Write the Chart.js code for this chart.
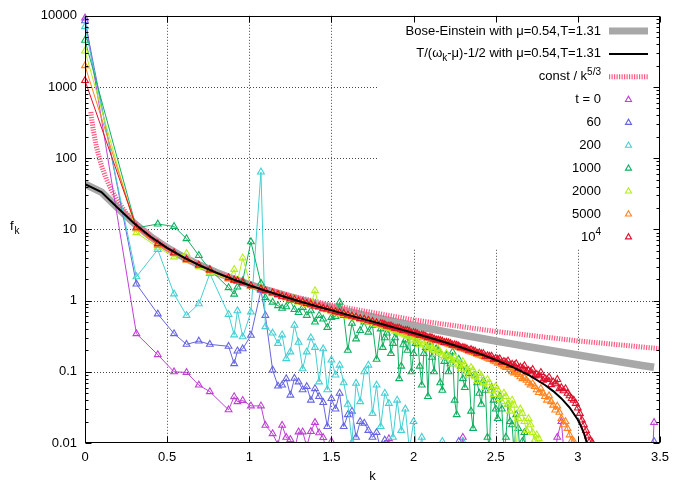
<!DOCTYPE html>
<html>
<head>
<meta charset="utf-8">
<script src="https://cdn.jsdelivr.net/npm/chart.js@4.4.0/dist/chart.umd.min.js"></script>
<style>
  html, body { margin: 0; padding: 0; background: #fff; }
  #wrap { width: 676px; height: 482px; position: relative; }
</style>
</head>
<body>
<div id="wrap"><canvas id="c"></canvas></div>
<script>
// ---- axis ticks ----
const X_TICKS = [0, 0.5, 1, 1.5, 2, 2.5, 3, 3.5];
const Y_TICKS = [0.01, 0.1, 1, 10, 100, 1000, 10000];

// ---- momenta of the occupation spectra ----
const K = [0, 0.313, 0.443, 0.542, 0.618, 0.693, 0.760, 0.874, 0.908, 0.928, 0.960, 1.010, 1.071, 1.098, 1.142,
  1.175, 1.2, 1.225, 1.25, 1.275, 1.3, 1.325, 1.35, 1.375, 1.4, 1.425, 1.45, 1.475, 1.5, 1.525, 1.55, 1.575, 1.6, 1.625, 1.65, 1.675, 1.7, 1.725, 1.75, 1.775, 1.8, 1.825, 1.85, 1.875, 1.9, 1.925, 1.95, 1.975,
  2.0, 2.025, 2.05, 2.075, 2.1, 2.125, 2.15, 2.175, 2.2, 2.225, 2.25, 2.275, 2.3, 2.325, 2.35, 2.375, 2.4, 2.425, 2.45, 2.475, 2.5, 2.525, 2.55, 2.575, 2.6, 2.625, 2.65, 2.675, 2.7, 2.725, 2.75, 2.775, 2.8, 2.825, 2.85, 2.875, 2.9, 2.925, 2.95, 2.975,
  3.0, 3.025, 3.05, 3.075, 3.1, 3.125, 3.15, 3.175, 3.2, 3.225, 3.25, 3.275, 3.3, 3.325, 3.35, 3.375, 3.4, 3.425, 3.45, 3.464];

// extra momenta in the densely populated shell (late times only)
const K_MID = [1.8125, 1.8375, 1.8625, 1.8875, 1.9125, 1.9375, 1.9625, 1.9875,
  2.0125, 2.0375, 2.0625, 2.0875, 2.1125, 2.1375, 2.1625, 2.1875, 2.2125, 2.2375, 2.2625, 2.2875, 2.3125, 2.3375, 2.3625, 2.3875, 2.4125, 2.4375, 2.4625, 2.4875,
  2.5125, 2.5375, 2.5625, 2.5875, 2.6125, 2.6375, 2.6625, 2.6875, 2.7125, 2.7375, 2.7625, 2.7875, 2.8125, 2.8375, 2.8625, 2.8875, 2.9125, 2.9375, 2.9625, 2.9875,
  3.0125, 3.0375, 3.0625, 3.0875];

// occupation below the plotted range (not visible, only the connecting lines show)
const B = 0.004;

const F_T0 = [9300, 0.343, 0.174, 0.100, 0.098, 0.065, 0.0526, 0.0292, 0.0448, 0.038, 0.0396, 0.0332, 0.0332, 0.0177, 0.0135,
  0.0095, 0.0177, 0.012, 0.0112, 0.008, 0.0143, 0.0143, 0.009, 0.0145, 0.0194, 0.0139, 0.0119, 0.007, 0.0105, B, B, B, B, B, B, B, B, B, B, B, B, B, 0.0115, B, B, B, B, B,
  B, B, B, B, B, B, B, B, B, B, B, B, 0.012, B, B, B, B, B, B, B, B, B, B, B, B, B, B, B, B, B, B, B, B, B, B, 0.012, 0.02, B, B, B,
  B, B, B, B, B, B, B, B, B, B, B, B, B, B, B, B, B, B, B, 0.0194];

const F_T60 = [8500, 1.71, 0.65, 0.343, 0.243, 0.27, 0.243, 0.228, 0.13, 0.196, 0.21, 0.325, 1.4, 0.62, 0.106,
  0.063, 0.065, 0.08, 0.047, 0.081, 0.072, 0.056, 0.062, 0.04, 0.058, 0.045, 0.037, 0.017, 0.042, 0.03, 0.05, 0.017, 0.025, 0.028, 0.012, 0.02, 0.019, 0.015, 0.012, 0.014, 0.008, 0.011, B, 0.009, B, B, B, B,
  B, B, B, B, B, B, B, B, B, B, B, 0.0105, B, B, B, B, B, B, B, B, B, B, B, B, B, B, B, B, B, B, B, B, B, B, B, B, B, B, B, B,
  B, B, B, B, B, B, B, B, B, B, B, B, B, B, B, B, B, B, B, 0.0105];

const F_T200 = [7030, 2.16, 5.2, 1.24, 0.62, 0.9, 2.4, 0.64, 0.33, 0.72, 0.31, 0.69, 64, 0.43, 0.35,
  0.25, 0.33, 0.153, 0.19, 0.45, 0.26, 0.11, 0.19, 0.3, 0.22, 0.072, 0.21, 0.056, 0.146, 0.09, 0.124, 0.07, 0.035, 0.0102, 0.069, 0.038, 0.1, 0.124, 0.026, 0.065, 0.017, 0.05, 0.036, 0.012, 0.04, 0.015, 0.03, 0.008,
  0.02, 0.006, 0.012, B, B, B, B, 0.0105, B, B, B, B, 0.0105, B, B, B, B, B, B, B, B, B, B, B, B, B, B, B, B, B, B, B, B, B, B, B, B, B, B,
  B, B, B, B, B, B, B, B, B, B, B, B, B, B, B, B, B, B, B, B];

const F_T1000 = [4530, 10.5, 11.9, 11.0, 7.4, 4.3, 2.74, 1.52, 1.23, 1.55, 1.9, 6.7, 1.75, 1.1, 0.95,
  0.85, 0.78, 0.82, 1.0, 0.75, 0.68, 0.8, 0.62, 0.72, 0.5, 0.62, 0.55, 0.42, 0.58, 0.6, 0.95, 0.62, 0.2, 0.48, 0.29, 0.38, 0.5, 0.36, 0.45, 0.15, 0.4, 0.3, 0.42, 0.25, 0.36, 0.12, 0.28, 0.33,
  0.18, 0.3, 0.065, 0.22, 0.26, 0.1, 0.2, 0.055, 0.17, 0.13, 0.04, 0.15, 0.08, 0.11, 0.028, 0.09, 0.05, 0.075, 0.012, 0.06, 0.03, 0.045, 0.008, 0.035, 0.018, 0.025, 0.006, 0.014, B, 0.009, B, B, B, B, B, B, B, B, B, B,
  B, B, B, B, B, B, B, B, B, B, B, B, B, B, B, B, B, B, B, B];
const F_T1000_MID = [0.22, 0.35, 0.18, 0.3, 0.08, 0.24, 0.2, 0.1,
  0.25, 0.12, 0.18, 0.045, 0.16, 0.21, 0.07, 0.14, 0.1, 0.19, 0.025, 0.12, 0.06, 0.095, 0.016, 0.07, 0.035, 0.055, 0.009, 0.04,
  0.022, 0.03, 0.012, 0.02, 0.007, 0.016, 0.0105, 0.006, B, B, B, B, B, B, B, B, B, B, B, B,
  B, B, B, B];

const F_T2000 = [3200, 9.0, 5.6, 4.1, 4.6, 3.0, 2.5, 2.0, 2.74, 1.85, 3.98, 1.6, 1.5, 1.35, 1.25,
  1.2, 1.12, 1.1, 1.03, 1.05, 0.95, 0.93, 0.88, 0.86, 1.38, 0.8, 0.75, 0.74, 0.7, 0.69, 0.65, 0.64, 0.6, 0.59, 0.57, 0.54, 0.53, 0.5, 0.49, 0.46, 0.45, 0.43, 0.41, 0.39, 0.38, 0.35, 0.33, 0.31,
  0.3, 0.26, 0.27, 0.23, 0.24, 0.2, 0.21, 0.17, 0.18, 0.15, 0.16, 0.125, 0.14, 0.1, 0.115, 0.085, 0.095, 0.07, 0.078, 0.055, 0.062, 0.042, 0.05, 0.035, 0.04, 0.008, 0.03, 0.02, 0.022, 0.014, 0.013, 0.009, 0.006, B, B, B, B, B, B, B,
  B, B, B, B, B, B, B, B, B, B, B, B, B, B, B, B, B, B, B, B];
const F_T2000_MID = [0.44, 0.42, 0.4, 0.37, 0.36, 0.34, 0.32, 0.28,
  0.28, 0.24, 0.25, 0.21, 0.22, 0.18, 0.19, 0.16, 0.165, 0.13, 0.145, 0.11, 0.125, 0.09, 0.105, 0.075, 0.088, 0.06, 0.07, 0.048,
  0.056, 0.038, 0.045, 0.028, 0.034, 0.022, 0.026, 0.015, 0.018, 0.011, 0.0115, 0.007, B, B, B, B, B, B, B, B,
  B, B, B, B];

const F_T5000 = [1990, 10.2, 6.0, 4.6, 3.7, 3.1, 2.65, 2.05, 1.92, 1.85, 1.75, 1.6, 1.44, 1.37, 1.27,
  1.2, 1.14, 1.1, 1.05, 1.02, 0.97, 0.94, 0.9, 0.87, 0.83, 0.81, 0.77, 0.75, 0.72, 0.69, 0.67, 0.65, 0.62, 0.6, 0.58, 0.555, 0.54, 0.52, 0.5, 0.48, 0.465, 0.45, 0.43, 0.415, 0.4, 0.385, 0.37, 0.36,
  0.345, 0.33, 0.32, 0.305, 0.295, 0.28, 0.272, 0.26, 0.25, 0.24, 0.23, 0.22, 0.21, 0.2, 0.19, 0.182, 0.172, 0.164, 0.155, 0.15, 0.138, 0.134, 0.12, 0.115, 0.1, 0.098, 0.085, 0.082, 0.07, 0.068, 0.056, 0.058, 0.045, 0.046, 0.034, 0.033, 0.022, 0.02, 0.013, 0.0105,
  0.007, 0.005, B, B, B, B, B, B, B, B, B, B, B, B, B, B, B, B, B, B];
const F_T5000_MID = [0.455, 0.44, 0.42, 0.41, 0.39, 0.38, 0.36, 0.35,
  0.335, 0.325, 0.31, 0.3, 0.285, 0.277, 0.265, 0.255, 0.244, 0.235, 0.224, 0.215, 0.205, 0.195, 0.186, 0.177, 0.168, 0.16, 0.15, 0.142,
  0.132, 0.126, 0.115, 0.108, 0.096, 0.092, 0.08, 0.076, 0.065, 0.062, 0.051, 0.05, 0.04, 0.038, 0.029, 0.027, 0.018, 0.016, 0.0108, 0.008,
  0.006, B, B, B];

const F_T10000 = [1230, 10.7, 6.3, 4.7, 3.8, 3.15, 2.7, 2.1, 1.95, 1.9, 1.78, 1.62, 1.46, 1.38, 1.29,
  1.22, 1.15, 1.12, 1.06, 1.04, 0.98, 0.96, 0.91, 0.89, 0.84, 0.82, 0.78, 0.76, 0.73, 0.7, 0.68, 0.66, 0.63, 0.61, 0.59, 0.56, 0.55, 0.53, 0.51, 0.49, 0.475, 0.46, 0.44, 0.425, 0.41, 0.395, 0.38, 0.37,
  0.355, 0.34, 0.33, 0.315, 0.305, 0.29, 0.28, 0.27, 0.26, 0.25, 0.24, 0.23, 0.22, 0.21, 0.205, 0.195, 0.185, 0.18, 0.168, 0.166, 0.154, 0.152, 0.14, 0.142, 0.128, 0.13, 0.116, 0.122, 0.104, 0.108, 0.092, 0.098, 0.08, 0.084, 0.072, 0.078, 0.06, 0.058, 0.046, 0.04,
  0.031, 0.021, 0.015, 0.0108, 0.006, B, B, B, B, B, B, B, B, B, B, B, B, B, B, B];
const F_T10000_MID = [0.47, 0.44, 0.44, 0.41, 0.41, 0.38, 0.38, 0.35,
  0.35, 0.325, 0.325, 0.3, 0.3, 0.28, 0.276, 0.258, 0.256, 0.238, 0.236, 0.218, 0.216, 0.2, 0.198, 0.182, 0.18, 0.165, 0.165, 0.15,
  0.15, 0.136, 0.136, 0.124, 0.124, 0.11, 0.112, 0.1, 0.1, 0.088, 0.088, 0.076, 0.078, 0.066, 0.068, 0.058, 0.054, 0.05, 0.042, 0.036,
  0.026, 0.018, 0.0125, 0.0102];

// ---- Bose-Einstein distribution, mu = 0.54, T = 1.31 ----
const BE_K = [0, 0.1, 0.2, 0.3, 0.4, 0.5, 0.6, 0.7, 0.8, 0.9, 1.0, 1.1, 1.2, 1.3, 1.4, 1.5, 1.6, 1.7, 1.8, 1.9,
  2.0, 2.1, 2.2, 2.3, 2.4, 2.5, 2.6, 2.7, 2.8, 2.9, 3.0, 3.1, 3.2, 3.3, 3.4, 3.464];
const BE_F = [43.2, 33.35, 19.94, 12.09, 7.886, 5.516, 4.073, 3.135, 2.490, 2.027, 1.682, 1.418, 1.211, 1.045, 0.9095, 0.7974, 0.7034, 0.6240, 0.5560, 0.4974,
  0.4466, 0.4022, 0.3632, 0.3288, 0.2982, 0.2711, 0.2468, 0.2251, 0.2055, 0.1879, 0.1720, 0.1576, 0.1446, 0.1327, 0.1219, 0.1156];

// ---- classical limit T/(omega_k - mu) - 1/2 ----
const CL_K = [0, 0.1, 0.2, 0.3, 0.4, 0.5, 0.6, 0.7, 0.8, 0.9, 1.0, 1.1, 1.2, 1.3, 1.4, 1.5, 1.6, 1.7, 1.8, 1.9,
  2.0, 2.1, 2.2, 2.3, 2.4, 2.5, 2.6, 2.7, 2.8, 2.85, 2.9, 2.95, 3.0, 3.02, 3.04, 3.06, 3.08];
const CL_F = [43.17, 33.35, 19.94, 12.08, 7.876, 5.504, 4.055, 3.112, 2.462, 1.994, 1.644, 1.374, 1.161, 0.9895, 0.8483, 0.7304, 0.6308, 0.5455, 0.4717, 0.4074,
  0.3509, 0.3007, 0.2561, 0.2160, 0.1799, 0.1472, 0.1174, 0.0902, 0.0653, 0.0536, 0.0423, 0.0315, 0.0212, 0.0171, 0.0131, 0.0092, 0.0053];

// ---- power law const / k^(5/3) ----
const PL_K = [0.0354, 0.05, 0.07, 0.1, 0.13, 0.16, 0.2, 0.25, 0.3, 0.4, 0.5, 0.6, 0.8, 1.0, 1.25, 1.5, 2.0, 2.5, 3.0, 3.5];
const PL_F = [445, 250.6, 143, 78.9, 50.9, 36.0, 24.9, 17.1, 12.65, 7.83, 5.40, 3.98, 2.466, 1.70, 1.172, 0.865, 0.5355, 0.369, 0.272, 0.211];

// ---- key entries (text pieces: n normal, sub, sup) ----
const KEY_BE = [['n', 'Bose-Einstein with μ=0.54,T=1.31']];
const KEY_CL = [['n', 'T/(ω'], ['sub', 'k'], ['n', '-μ)-1/2 with μ=0.54,T=1.31']];
const KEY_PL = [['n', 'const / k'], ['sup', '5/3']];
const TIME_LABELS = [[['n', 't = 0']], [['n', '60']], [['n', '200']], [['n', '1000']], [['n', '2000']], [['n', '5000']], [['n', '10'], ['sup', '4']]];

const FONT = "'Liberation Sans', Arial, Helvetica, sans-serif";
const SERIES = [
  { values: F_T0,     color: '#c040d4' },
  { values: F_T60,    color: '#6666e0' },
  { values: F_T200,   color: '#44d0d4' },
  { values: F_T1000,  mid: F_T1000_MID,  color: '#10b060' },
  { values: F_T2000,  mid: F_T2000_MID,  color: '#b4ee1a' },
  { values: F_T5000,  mid: F_T5000_MID,  color: '#ff8420' },
  { values: F_T10000, mid: F_T10000_MID, color: '#e0102c' }
];

const pts = (xs, ys) => xs.map((x, i) => ({ x: x, y: ys[i] }));
function spectrum(s) {
  const a = pts(K, s.values);
  if (s.mid) a.push(...pts(K_MID, s.mid));
  return a.sort((p, q) => p.x - q.x);
}

Chart.defaults.font.family = FONT;
Chart.defaults.font.size = 13;
Chart.defaults.color = '#000';

const datasets = [
  { data: pts(BE_K, BE_F), borderColor: '#a8a8a8', borderWidth: 7.5, pointRadius: 0, showLine: true,
    borderCapStyle: 'butt', order: 20, clip: 0 },
  { data: pts(PL_K, PL_F), borderColor: '#ff5a80', borderWidth: 5, borderDash: [1.2, 1.3], pointRadius: 0,
    showLine: true, borderCapStyle: 'butt', order: 19, clip: 0 }
];
SERIES.forEach((s, i) => {
  datasets.push({
    data: spectrum(s), showLine: true, borderColor: s.color, borderWidth: 1,
    pointStyle: 'triangle', pointRadius: 3.9, pointBorderWidth: 1.1, pointBorderColor: s.color,
    pointBackgroundColor: 'rgba(0,0,0,0)', order: 10 - i,
    clip: { left: 8, top: 8, right: 8, bottom: 0 }
  });
});
datasets.push({ data: pts(CL_K, CL_F), borderColor: '#000', borderWidth: 2, pointRadius: 0, showLine: true,
  order: 0, clip: 0 });

// opaque key region at the upper right of the plot
const KEY_BOX = { left: 378, bottom: 248 };
const KEY_TEXT_RIGHT = 601, KEY_SAMPLE = [609, 648], KEY_Y0 = 31, KEY_DY = 22.9;

function pieceFont(kind) { return (kind === 'n' ? 13 : 10) + 'px ' + FONT; }
function drawPieces(ctx, pieces, xRight, yMid) {
  let w = 0;
  pieces.forEach(p => { ctx.font = pieceFont(p[0]); w += ctx.measureText(p[1]).width; });
  let x = xRight - w;
  ctx.textAlign = 'left';
  ctx.textBaseline = 'middle';
  pieces.forEach(p => {
    ctx.font = pieceFont(p[0]);
    const dy = p[0] === 'sub' ? 4 : (p[0] === 'sup' ? -5 : 0);
    ctx.fillText(p[1], x, yMid + dy);
    x += ctx.measureText(p[1]).width;
  });
}
function triangle(ctx, x, y, r, color) {
  ctx.beginPath();
  for (let i = 0; i < 3; i++) {
    const a = i * 2 * Math.PI / 3;
    const px = x + Math.sin(a) * r, py = y - Math.cos(a) * r;
    if (i) ctx.lineTo(px, py); else ctx.moveTo(px, py);
  }
  ctx.closePath();
  ctx.strokeStyle = color;
  ctx.lineWidth = 1.1;
  ctx.stroke();
}

const frame = {
  id: 'frame',
  beforeDatasetsDraw(chart) {
    const { ctx, chartArea: a, scales: { x, y } } = chart;
    ctx.save();
    ctx.strokeStyle = 'rgba(0,0,0,0.72)';
    ctx.lineWidth = 1;
    ctx.setLineDash([1, 2]);
    ctx.beginPath();
    X_TICKS.forEach(v => {
      if (v <= x.min || v >= x.max) return;
      const px = Math.round(x.getPixelForValue(v)) + 0.5;
      ctx.moveTo(px, a.top); ctx.lineTo(px, a.bottom);
    });
    Y_TICKS.forEach(v => {
      if (v <= y.min || v >= y.max) return;
      const py = Math.round(y.getPixelForValue(v)) + 0.5;
      ctx.moveTo(a.left, py); ctx.lineTo(a.right, py);
    });
    ctx.stroke();
    ctx.setLineDash([]);
    ctx.fillStyle = '#fff';
    ctx.fillRect(KEY_BOX.left, a.top, a.right - KEY_BOX.left, KEY_BOX.bottom - a.top);
    ctx.restore();
  },
  afterDatasetsDraw(chart) {
    const { ctx, chartArea: a, scales: { x, y } } = chart;
    ctx.save();
    // border
    ctx.strokeStyle = '#000';
    ctx.lineWidth = 1;
    const L = Math.round(a.left) + 0.5, R = Math.round(a.right) - 0.5;
    const T = Math.round(a.top) + 0.5, Bt = Math.round(a.bottom) - 0.5;
    ctx.strokeRect(L, T, R - L, Bt - T);
    // tics, pointing inward on all four sides
    ctx.beginPath();
    X_TICKS.forEach(v => {
      const px = Math.round(x.getPixelForValue(v)) + 0.5;
      ctx.moveTo(px, Bt); ctx.lineTo(px, Bt - 6);
      ctx.moveTo(px, T); ctx.lineTo(px, T + 6);
    });
    Y_TICKS.forEach((v, i) => {
      const py = Math.round(y.getPixelForValue(v)) + 0.5;
      ctx.moveTo(L, py); ctx.lineTo(L + 6, py);
      ctx.moveTo(R, py); ctx.lineTo(R - 6, py);
      if (i < Y_TICKS.length - 1) {
        for (let m = 2; m <= 9; m++) {
          const pm = Math.round(y.getPixelForValue(v * m)) + 0.5;
          ctx.moveTo(L, pm); ctx.lineTo(L + 3, pm);
          ctx.moveTo(R, pm); ctx.lineTo(R - 3, pm);
        }
      }
    });
    ctx.stroke();

    // key
    ctx.fillStyle = '#000';
    const rows = [KEY_BE, KEY_CL, KEY_PL].concat(TIME_LABELS);
    rows.forEach((pieces, i) => drawPieces(ctx, pieces, KEY_TEXT_RIGHT, KEY_Y0 + i * KEY_DY));
    let yy = KEY_Y0;
    ctx.lineCap = 'butt';
    ctx.strokeStyle = '#a8a8a8'; ctx.lineWidth = 7;
    ctx.beginPath(); ctx.moveTo(KEY_SAMPLE[0], yy); ctx.lineTo(KEY_SAMPLE[1], yy); ctx.stroke();
    yy += KEY_DY;
    ctx.strokeStyle = '#000'; ctx.lineWidth = 2;
    ctx.beginPath(); ctx.moveTo(KEY_SAMPLE[0], yy); ctx.lineTo(KEY_SAMPLE[1], yy); ctx.stroke();
    yy += KEY_DY;
    ctx.strokeStyle = '#ff5a80'; ctx.lineWidth = 5; ctx.setLineDash([1.2, 1.3]);
    ctx.beginPath(); ctx.moveTo(KEY_SAMPLE[0], yy); ctx.lineTo(KEY_SAMPLE[1], yy); ctx.stroke();
    ctx.setLineDash([]);
    SERIES.forEach((s, i) => {
      triangle(ctx, (KEY_SAMPLE[0] + KEY_SAMPLE[1]) / 2, KEY_Y0 + (3 + i) * KEY_DY, 3.5, s.color);
    });

    // axis titles
    ctx.fillStyle = '#000';
    ctx.font = '13px ' + FONT;
    ctx.textAlign = 'center';
    ctx.textBaseline = 'middle';
    ctx.fillText('k', (a.left + a.right) / 2, 476);
    ctx.textAlign = 'left';
    ctx.textBaseline = 'alphabetic';
    ctx.fillText('f', 10, 230);
    const fw = ctx.measureText('f').width;
    ctx.font = '10px ' + FONT;
    ctx.fillText('k', 10 + fw + 1, 234);
    ctx.restore();
  }
};

new Chart(document.getElementById('c'), {
  type: 'scatter',
  data: { datasets: datasets },
  options: {
    responsive: true,
    maintainAspectRatio: false,
    animation: false,
    devicePixelRatio: 1,
    events: [],
    layout: { padding: { left: 0, right: 12, top: 13, bottom: 0 } },
    elements: { line: { tension: 0 } },
    plugins: { legend: { display: false }, tooltip: { enabled: false } },
    scales: {
      x: {
        type: 'linear', min: 0, max: 3.5,
        grid: { display: false, drawTicks: false },
        border: { display: false },
        ticks: { padding: 7, font: { size: 13 }, maxRotation: 0, callback: v => String(v) },
        afterBuildTicks: s => { s.ticks = X_TICKS.map(v => ({ value: v })); },
        afterFit: s => { s.height = 39; }
      },
      y: {
        type: 'logarithmic', min: 0.01, max: 10000,
        grid: { display: false, drawTicks: false },
        border: { display: false },
        ticks: { padding: 8, font: { size: 13 }, callback: v => String(v) },
        afterBuildTicks: s => { s.ticks = Y_TICKS.map(v => ({ value: v })); },
        afterFit: s => { s.width = 85; }
      }
    }
  },
  plugins: [frame]
});
</script>
</body>
</html>
